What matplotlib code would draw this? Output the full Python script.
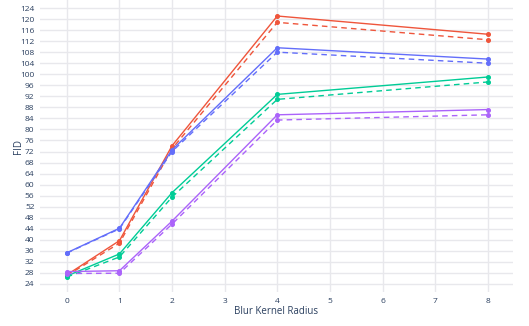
import numpy as np
import matplotlib.pyplot as plt

# blur radius on the x axis
radius = [0, 1, 2, 4, 8]

# FID values (solid / dashed for each colour)
red_solid = [27.3, 39.7, 74.1, 121.1, 114.5]
red_dash = [27.0, 38.8, 73.0, 118.8, 112.5]
blue_solid = [35.3, 44.2, 72.6, 109.6, 105.5]
blue_dash = [35.2, 44.0, 72.0, 108.0, 104.0]
green_solid = [26.9, 34.9, 57.1, 92.7, 99.0]
green_dash = [26.5, 33.8, 55.5, 90.9, 97.2]
purple_solid = [28.5, 28.8, 46.8, 85.3, 87.2]
purple_dash = [27.8, 27.9, 45.7, 83.4, 85.3]

y_ticks = list(range(24, 125, 4))
x_ticks = list(range(0, 9))

plt.rcParams['font.family'] = ['Open Sans', 'DejaVu Sans']
W, H = 529, 326
fig = plt.figure(figsize=(W / 100, H / 100), dpi=100)
# axes placed in pixel terms
left, right, top, bottom = 40, 513, 0, 292
ax = fig.add_axes([left / W, 1 - bottom / H, (right - left) / W, (bottom - top) / H])

series = [
    (red_solid, red_dash, '#EF553B'),
    (blue_solid, blue_dash, '#636efa'),
    (green_solid, green_dash, '#00cc96'),
    (purple_solid, purple_dash, '#ab63fa'),
]
for solid, dash, c in series:
    ax.plot(radius, solid, color=c, lw=1.0, marker='o', ms=2.6, zorder=3)
    ax.plot(radius, dash, color=c, lw=1.0, ls=(0, (4, 3)), marker='o', ms=2.6, zorder=3)

ax.set_xlim(-0.51, 8.48)
ax.set_ylim(21.1, 126.9)
ax.set_xticks(x_ticks)
ax.set_yticks(y_ticks)
ax.grid(True, color='#E8E8EC', lw=1)
ax.set_axisbelow(True)
for s in ax.spines.values():
    s.set_visible(False)
ax.tick_params(length=0, labelsize=6, labelcolor='#2a3f5f', pad=4)
ax.set_xlabel('Blur Kernel Radius', fontsize=7, color='#2a3f5f')
ax.set_ylabel('FID', fontsize=7, color='#2a3f5f')
ax.xaxis.set_label_coords(0.5, -14 / (bottom - top))
ax.yaxis.set_label_coords(-16 / (right - left), 0.5)

fig.savefig('out.png', dpi=100)
